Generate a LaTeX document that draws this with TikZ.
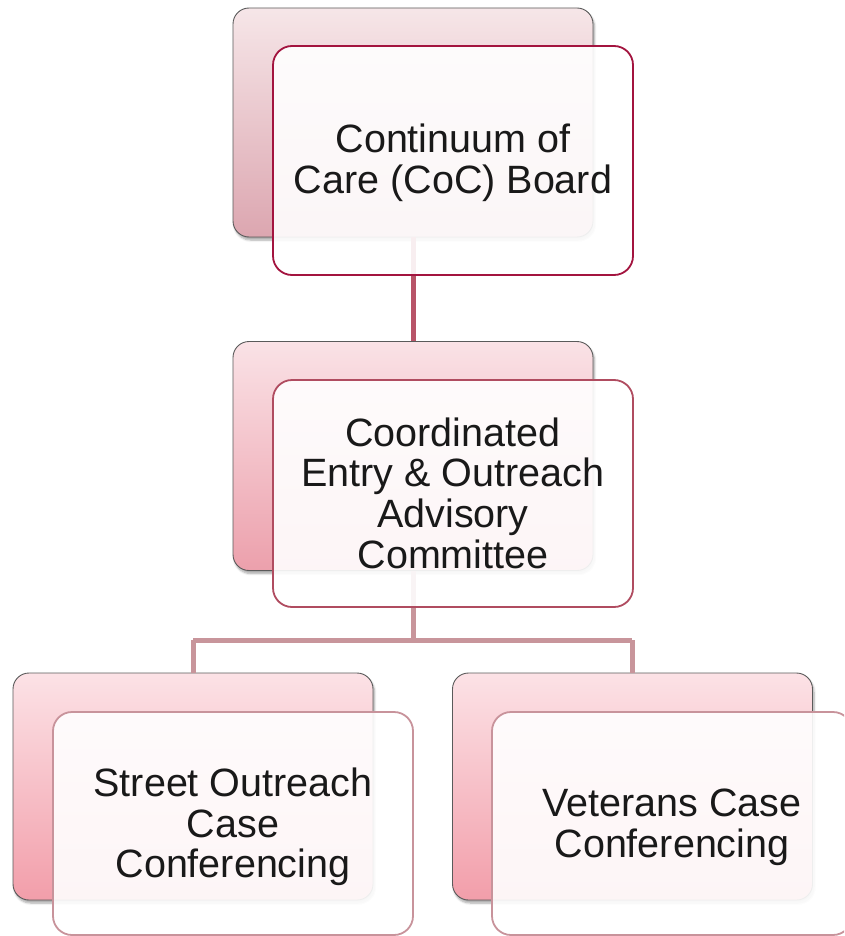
\documentclass[tikz,border=0pt]{standalone}
\usepackage{fontspec}
\setmainfont{Liberation Sans}
\usetikzlibrary{shadows.blur}
\definecolor{topedge}{HTML}{A3143F}
\definecolor{midedge}{HTML}{B04C60}
\definecolor{lowedge}{HTML}{C8939B}
\definecolor{linkA}{HTML}{B85468}
\definecolor{linkB}{HTML}{C8959B}
\definecolor{backgray}{HTML}{5A5A5A}
\tikzset{
  backbox/.style={rectangle, rounded corners=16pt, minimum width=360pt, minimum height=229pt,
    draw=backgray, line width=0.9pt, inner sep=0pt,
    blur shadow={shadow xshift=1.5pt, shadow yshift=-3pt, shadow blur steps=6, shadow opacity=35}},
  frontbox/.style={rectangle, rounded corners=19pt, minimum width=360pt, minimum height=229pt,
    line width=1.8pt, fill=white, fill opacity=0.9, inner sep=0pt},
  boxtext/.style={align=center, text=black!90, inner sep=0pt, font=\fontsize{39.5}{40.6}\selectfont},
  linkone/.style={draw=linkA, line width=5pt},
  linktwo/.style={draw=linkB, line width=5pt},
}
\begin{document}
\begin{tikzpicture}[x=1pt,y=-1pt]
\useasboundingbox (0,0) rectangle (844,936);
\clip (0,0) rectangle (844,936);
% back boxes
\node[backbox, top color={rgb,255:red,246;green,230;blue,232}, bottom color={rgb,255:red,220;green,166;blue,176}] (b1) at (413,122.5) {};
\node[backbox, top color={rgb,255:red,250;green,226;blue,230}, bottom color={rgb,255:red,236;green,160;blue,172}] (b2) at (413,456) {};
\node[backbox, minimum height=227pt, top color={rgb,255:red,252;green,226;blue,230}, bottom color={rgb,255:red,242;green,158;blue,170}] (b3) at (193,786.5) {};
\node[backbox, minimum height=227pt, top color={rgb,255:red,252;green,226;blue,230}, bottom color={rgb,255:red,242;green,158;blue,170}] (b4) at (632.5,786.5) {};
% connectors
\draw[linkone] (b1.south) -- (b2.north);
\coordinate (j) at (413,640);
\coordinate (jl) at (193,640);
\coordinate (jr) at (632,640);
\draw[linktwo] (b2.south) -- (j);
\draw[linktwo] (jl) -- (jr);
\draw[linktwo] (jl) -- (b3.north);
\draw[linktwo] (jr) -- (632,673);
% front boxes
\node[frontbox, draw=topedge] (f1) at (453,160.5) {};
\node[frontbox, draw=midedge, minimum height=227pt] (f2) at (453,493.5) {};
\node[frontbox, draw=lowedge, minimum height=223pt] (f3) at (233,823.5) {};
\node[frontbox, draw=lowedge, minimum height=223pt] (f4) at (672,823.5) {};
% texts
\node[boxtext] (t1) at ([yshift=-2.5pt]f1.center) {Continuum of\\Care (CoC) Board};
\node[boxtext] (t2) at ([yshift=0.5pt]f2.center) {Coordinated\\Entry \& Outreach\\Advisory\\Committee};
\node[boxtext] (t3) at ([yshift=-3.5pt]f3.center) {Street Outreach\\Case\\Conferencing};
\node[boxtext] (t4) at ([yshift=-3.5pt]f4.center) {Veterans Case\\Conferencing};
\end{tikzpicture}
\end{document}
